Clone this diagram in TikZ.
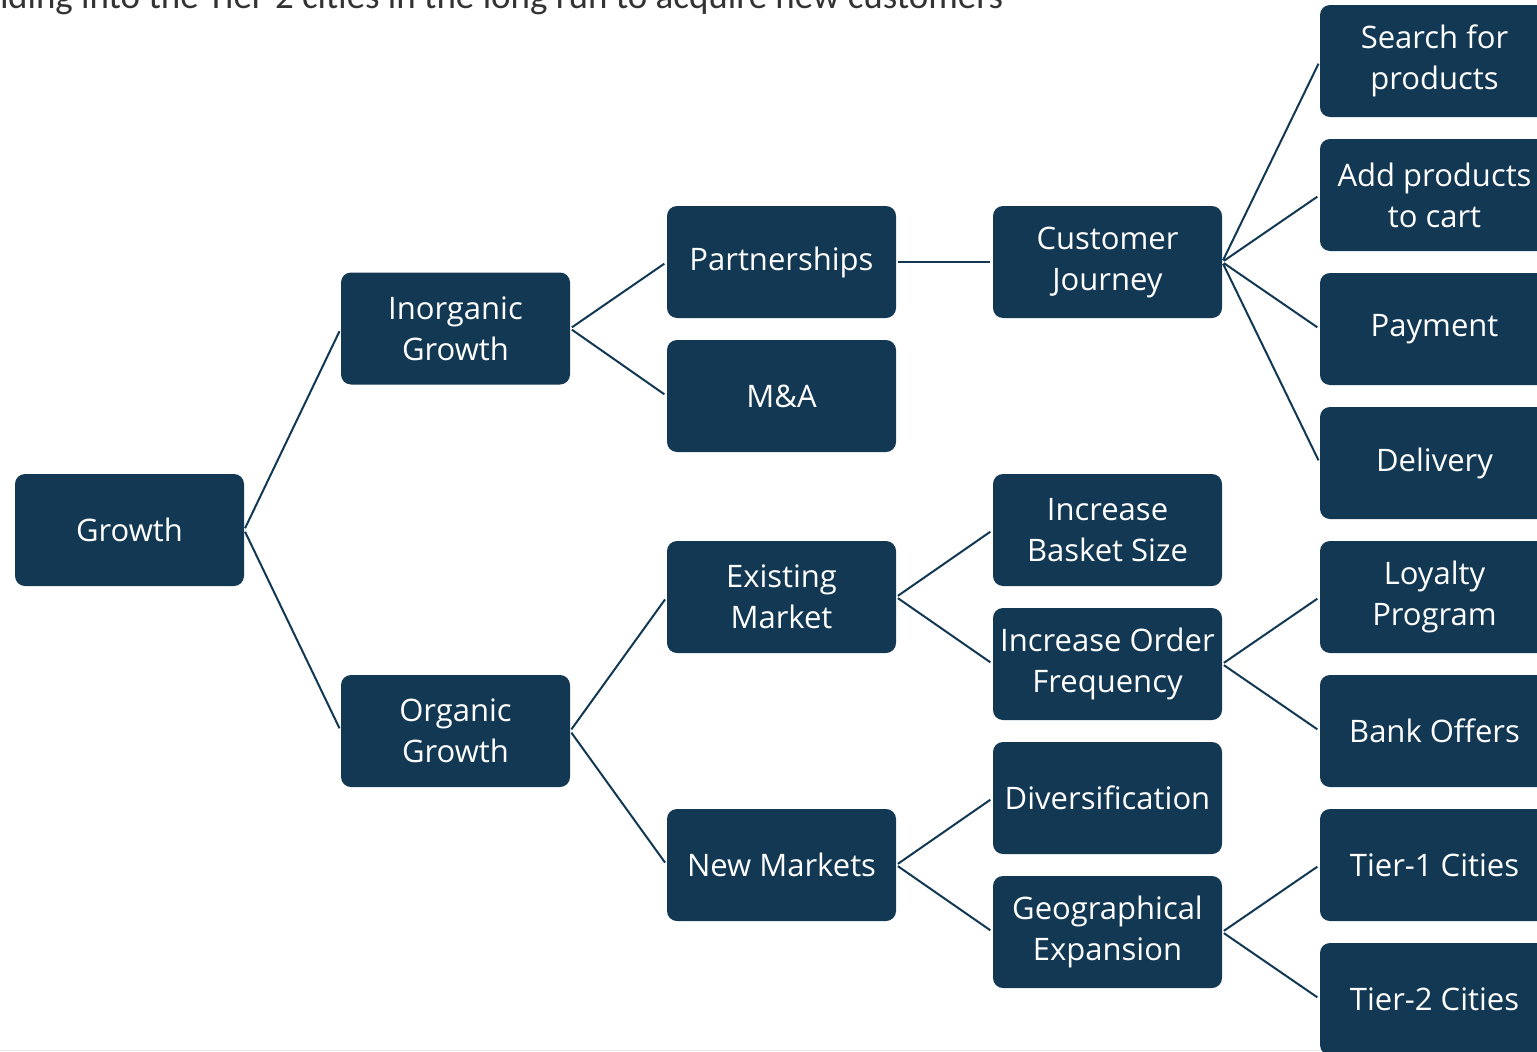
\documentclass[tikz,border=0pt]{standalone}
\usepackage{fontspec}
\usepackage{graphicx}
\setmainfont{Open Sans}
\newfontfamily\topfont{Carlito}
\definecolor{navy}{RGB}{18,56,83}
\begin{document}
\begin{tikzpicture}[x=1pt,y=-1pt,
  box/.style={draw=none,fill=navy,text=white,rounded corners=10pt,minimum width=229pt,minimum height=112pt,inner sep=0pt,align=center,font=\fontsize{31}{41}\selectfont},
  conn/.style={draw=navy,line width=2pt,shorten <=2pt,shorten >=3pt}]
\useasboundingbox (0,0) rectangle (1537,1052);
\clip (0,0) rectangle (1537,1052);
\fill[white] (0,0) rectangle (1537,1052);
\node[anchor=base west,text=black!80,inner sep=0pt] (top) at (8,8) {\resizebox{995pt}{!}{\topfont\fontsize{36}{42}\selectfont\llap{expan}ding into the Tier-2 cities in the long run to acquire new customers}};
\draw[gray!15,line width=1.5pt] (0,1050.5) -- (1537,1050.5);
% column 1
\node[box] (g) at (129.5,530) {Growth};
% column 2
\node[box] (ig) at (455.5,328.5) {Inorganic\\Growth};
\node[box] (og) at (455.5,731) {Organic\\Growth};
% column 3
\node[box] (pa) at (781.5,262) {Partnerships};
\node[box] (ma) at (781.5,396) {M\&A};
\node[box] (em) at (781.5,597) {Existing\\Market};
\node[box] (nm) at (781.5,865) {New Markets};
% column 4
\node[box] (cj) at (1107.5,262) {Customer\\Journey};
\node[box] (bs) at (1107.5,530) {Increase\\Basket Size};
\node[box] (of) at (1107.5,664) {Increase Order\\Frequency};
\node[box] (dv) at (1107.5,798) {Diversification};
\node[box] (ge) at (1107.5,932) {Geographical\\Expansion};
% column 5
\node[box] (sp) at (1434.5,61) {Search for\\products};
\node[box] (ap) at (1434.5,195) {Add products\\to cart};
\node[box] (py) at (1434.5,329) {Payment};
\node[box] (dl) at (1434.5,463) {Delivery};
\node[box] (lp) at (1434.5,597) {Loyalty\\Program};
\node[box] (bo) at (1434.5,731) {Bank Offers};
\node[box] (t1) at (1434.5,865) {Tier-1 Cities};
\node[box] (t2) at (1434.5,999) {Tier-2 Cities};
% connectors
\draw[conn] (g.east) -- (ig.west);
\draw[conn] (g.east) -- (og.west);
\draw[conn] (ig.east) -- (pa.west);
\draw[conn] (ig.east) -- (ma.west);
\draw[conn] (og.east) -- (em.west);
\draw[conn] (og.east) -- (nm.west);
\draw[conn] (pa.east) -- (cj.west);
\draw[conn] (em.east) -- (bs.west);
\draw[conn] (em.east) -- (of.west);
\draw[conn] (nm.east) -- (dv.west);
\draw[conn] (nm.east) -- (ge.west);
\draw[conn] (cj.east) -- (sp.west);
\draw[conn] (cj.east) -- (ap.west);
\draw[conn] (cj.east) -- (py.west);
\draw[conn] (cj.east) -- (dl.west);
\draw[conn] (of.east) -- (lp.west);
\draw[conn] (of.east) -- (bo.west);
\draw[conn] (ge.east) -- (t1.west);
\draw[conn] (ge.east) -- (t2.west);
\end{tikzpicture}
\end{document}
